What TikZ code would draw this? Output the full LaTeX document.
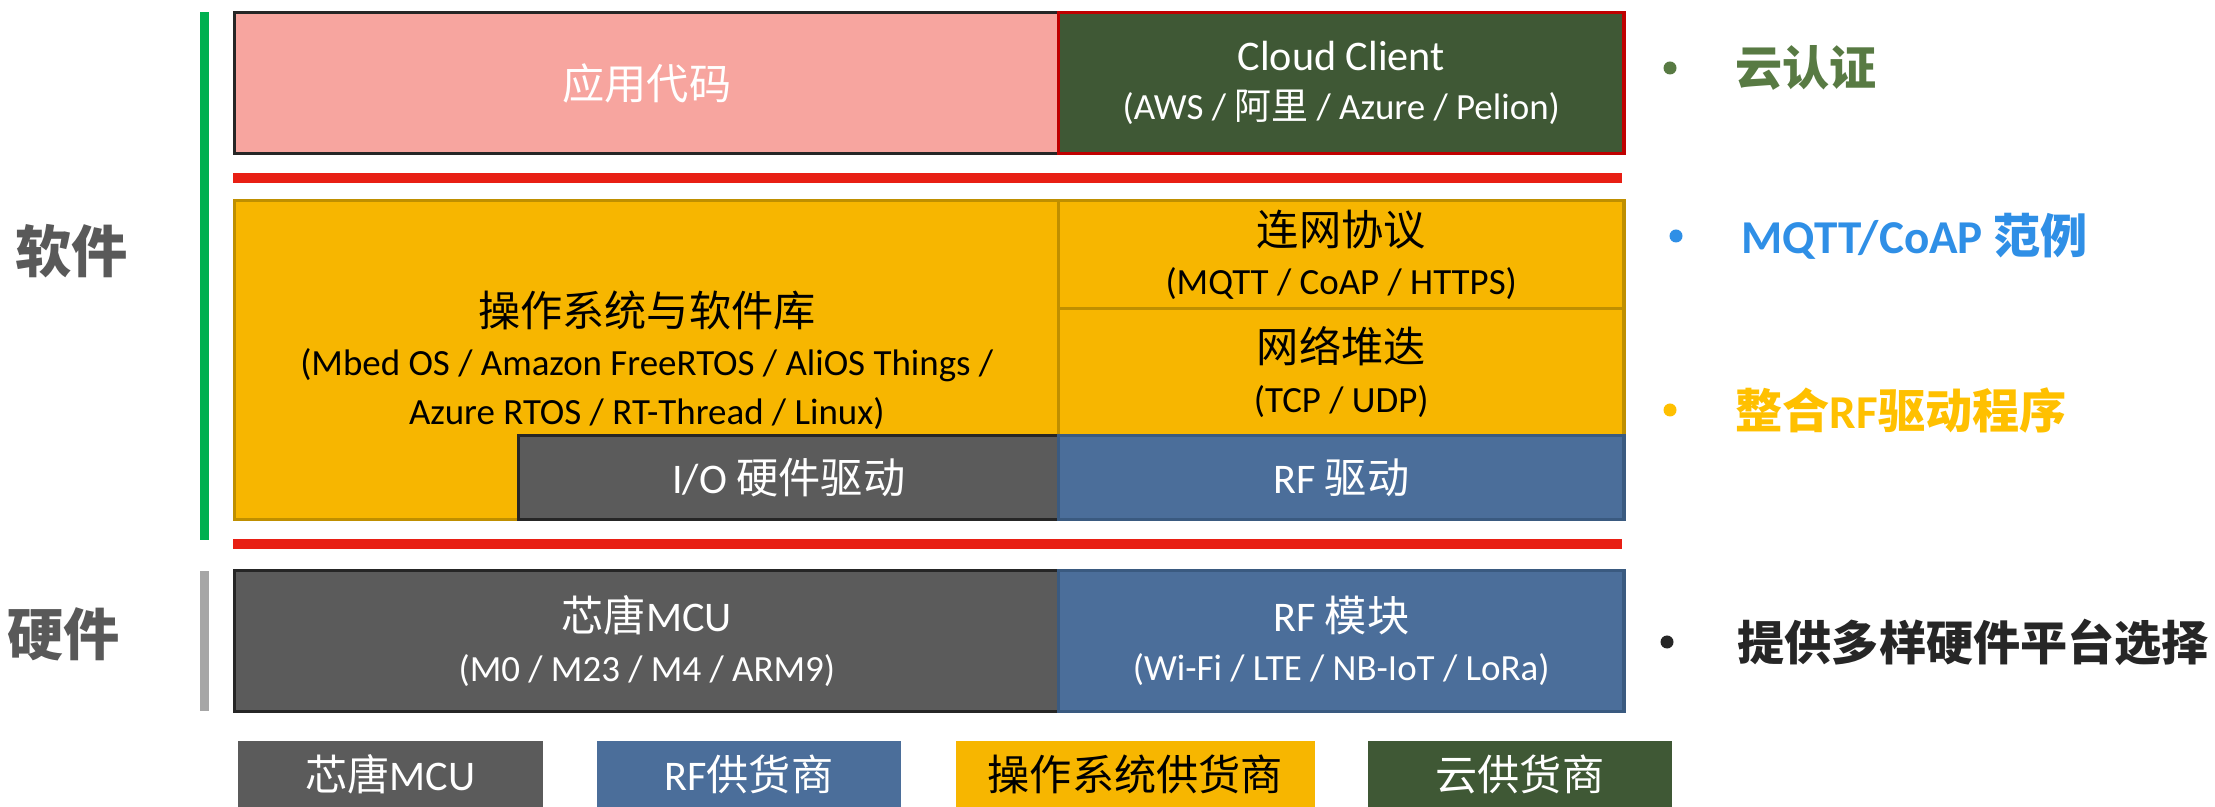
\documentclass[tikz,border=0pt]{standalone}
\usepackage{fontspec}
\setmainfont{Carlito}
\newfontfamily\cjk{Noto Sans CJK SC}
\newcommand{\zh}[1]{{\cjk #1}}
\newcommand{\subline}[1]{{\fontsize{10.5}{14}\selectfont #1}}
\definecolor{apppink}{HTML}{F7A59F}
\definecolor{cloudgreen}{HTML}{3F5835}
\definecolor{osyellow}{HTML}{F7B600}
\definecolor{osedge}{HTML}{BF8F00}
\definecolor{hwgray}{HTML}{5B5B5B}
\definecolor{rfblue}{HTML}{4B6E9A}
\definecolor{rfedge}{HTML}{3A5A80}
\definecolor{sepred}{HTML}{E81F14}
\definecolor{swgreen}{HTML}{00B050}
\definecolor{hwbar}{HTML}{A6A6A6}
\definecolor{sidegray}{HTML}{595959}
\definecolor{notegreen}{HTML}{587A43}
\definecolor{noteblue}{HTML}{2F8FE6}
\definecolor{noteyellow}{HTML}{FFC000}
\definecolor{notedark}{HTML}{262626}
\tikzset{
  layer/.style 2 args={anchor=north west, inner sep=0pt, line width=0.9pt, align=center,
    minimum width=#1, minimum height=#2, font=\fontsize{12}{14}\selectfont},
  keybox/.style={anchor=north west, inner sep=0pt, minimum height=0.67cm, font=\fontsize{12}{14}\selectfont},
  side/.style={font=\fontsize{16}{18}\selectfont\bfseries, text=sidegray},
  note/.style={anchor=west, inner sep=0pt, font=\fontsize{13.4}{16}\selectfont\bfseries},
  bulletdot/.style={circle, inner sep=0pt, minimum size=0.13cm},
}
\begin{document}
\begin{tikzpicture}[x=0.01cm, y=-0.01cm]
  \useasboundingbox (0,0) rectangle (2215,807);
  % software / hardware bars
  \fill[swgreen] (200,12) rectangle (209,540);
  \fill[hwbar] (200,571) rectangle (209,711);
  \node[side] (sw) at (72,251) {\zh{软件}};
  \node[side] (hw) at (64,634) {\zh{硬件}};
  % application layer
  \node[layer={8.24cm}{1.41cm}, fill=apppink, draw=notedark, text=white] (app) at (233,11) {\zh{应用代码}};
  \node[layer={5.65cm}{1.41cm}, fill=cloudgreen, draw=red!75!black, text=white] (cloud) at (1057,11) {Cloud Client\\ \subline{(AWS / \zh{阿里} / Azure / Pelion)}};
  \fill[sepred] (233,173) rectangle (1622,183);
  % os and stack
  \node[layer={8.24cm}{3.19cm}, fill=osyellow, draw=osedge] (os) at (233,199) {\zh{操作系统与软件库}\\ \subline{(Mbed OS / Amazon FreeRTOS / AliOS Things /}\\ \subline{Azure RTOS / RT-Thread / Linux)}};
  \node[layer={5.65cm}{1.08cm}, fill=osyellow, draw=osedge] (proto) at (1057,199) {\zh{连网协议}\\ \subline{(MQTT / CoAP / HTTPS)}};
  \node[layer={5.65cm}{1.27cm}, fill=osyellow, draw=osedge] (stack) at (1057,307) {\zh{网络堆迭}\\ \subline{(TCP / UDP)}};
  \node[layer={5.40cm}{0.84cm}, fill=hwgray, draw=notedark, text=white] (io) at (517,434) {I/O \zh{硬件驱动}};
  \node[layer={5.65cm}{0.84cm}, fill=rfblue, draw=rfedge, text=white] (rfdrv) at (1057,434) {RF \zh{驱动}};
  \fill[sepred] (233,539) rectangle (1622,549);
  % hardware
  \node[layer={8.24cm}{1.41cm}, fill=hwgray, draw=notedark, text=white] (mcu) at (233,569) {\zh{芯唐}MCU\\ \subline{(M0 / M23 / M4 / ARM9)}};
  \node[layer={5.65cm}{1.41cm}, fill=rfblue, draw=rfedge, text=white] (rfmod) at (1057,569) {RF \zh{模块}\\ \subline{(Wi-Fi / LTE / NB-IoT / LoRa)}};
  % legend
  \node[keybox, minimum width=3.05cm, fill=hwgray, text=white] (kmcu) at (237,740) {\zh{芯唐}MCU};
  \node[keybox, minimum width=3.04cm, fill=rfblue, text=white] (krf) at (596,740) {RF\zh{供货商}};
  \node[keybox, minimum width=3.59cm, fill=osyellow] (kos) at (955,740) {\zh{操作系统供货商}};
  \node[keybox, minimum width=3.04cm, fill=cloudgreen, text=white] (kcloud) at (1367,740) {\zh{云供货商}};
  % notes
  \node[bulletdot, fill=notegreen] (d1) at (1670,68) {};
  \node[note, text=notegreen] (n1) at (1735,68) {\zh{云认证}};
  \node[bulletdot, fill=noteblue] (d2) at (1676,236) {};
  \node[note, text=noteblue] (n2) at (1741,236) {MQTT/CoAP \zh{范例}};
  \node[bulletdot, fill=noteyellow] (d3) at (1670,410) {};
  \node[note, text=noteyellow] (n3) at (1735,410) {\zh{整合}RF\zh{驱动程序}};
  \node[bulletdot, fill=notedark] (d4) at (1667,642) {};
  \node[note, text=notedark] (n4) at (1737,642) {\zh{提供多样硬件平台选择}};
\end{tikzpicture}
\end{document}
